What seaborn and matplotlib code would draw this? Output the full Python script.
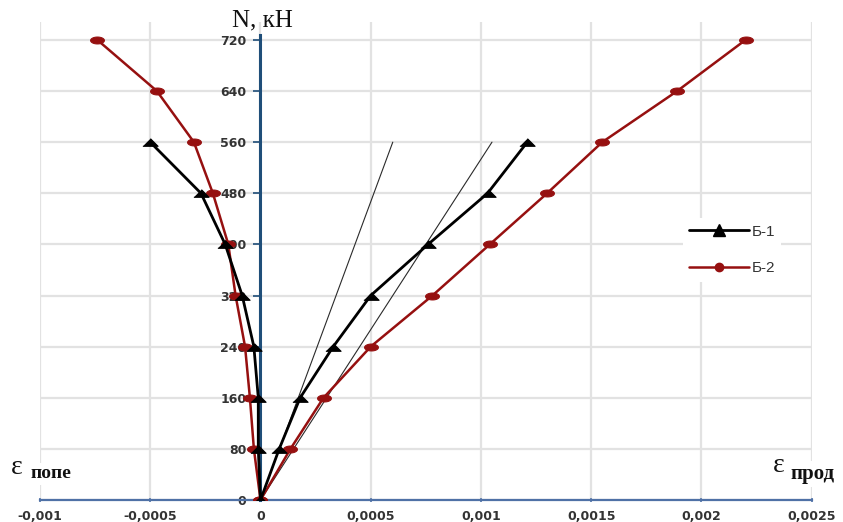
import numpy as np
import pandas as pd
import matplotlib
matplotlib.use("Agg")
import matplotlib.pyplot as plt
from matplotlib.lines import Line2D
import seaborn as sns

# Load levels N, kN
n_b1 = [0, 80, 160, 240, 320, 400, 480, 560]
n_b2 = [0, 80, 160, 240, 320, 400, 480, 560, 640, 720]

# Longitudinal strains (positive) and transverse strains (negative)
b1_long = [0, 0.000085, 0.00018, 0.00033, 0.0005, 0.00076, 0.00103, 0.00121]
b1_trans = [0, -0.00001, -0.00001, -0.00003, -0.000083, -0.00016, -0.00027, -0.0005]
b2_long = [0, 0.000136, 0.000286, 0.0005, 0.00078, 0.00104, 0.0013, 0.00155, 0.00189, 0.0022]
b2_trans = [0, -0.00003, -0.000048, -0.00007, -0.000113, -0.000146, -0.000216, -0.000302, -0.00047, -0.00074]

# Thin straight reference lines from the origin
ref_n = [0, 560]
ref1_eps = [0, 0.0006]
ref2_eps = [0, 0.00105]

series_names = ["Б-1", "Б-2"]

xticks = [-0.001, -0.0005, 0, 0.0005, 0.001, 0.0015, 0.002, 0.0025]
xtick_labels = ["-0,001", "-0,0005", "0", "0,0005", "0,001", "0,0015", "0,002", "0,0025"]
yticks = [0, 80, 160, 240, 320, 400, 480, 560, 640, 720]
ytick_labels = [str(v) for v in yticks]

W, H = 843, 522
sns.set_theme(style="white")
plt.rcParams["font.family"] = ["DejaVu Sans"]

fig = plt.figure(figsize=(W / 100, H / 100), dpi=100)
fig.patch.set_facecolor("white")
ax = fig.add_axes([40 / W, 22 / H, 771.7 / W, 478 / H])
ax.set_facecolor("white")


def branch(n, trans, long_):
    # one continuous path: transverse branch down to the origin, then longitudinal up
    eps = list(reversed(trans)) + list(long_)
    nn = list(reversed(n)) + list(n)
    return pd.DataFrame({"eps": eps, "N": nn})


tri_wide = [(-1, -0.5), (1, -0.5), (0.0, 0.5)]
t = np.linspace(0, 2 * np.pi, 40)
ellipse = list(zip(np.cos(t), 0.5 * np.sin(t)))

red = "#961010"

sns.lineplot(data=pd.DataFrame({"eps": ref1_eps, "N": ref_n}), x="eps", y="N",
             sort=False, estimator=None, color="#2a2a2a", lw=0.8, ax=ax, zorder=3)
sns.lineplot(data=pd.DataFrame({"eps": ref2_eps, "N": ref_n}), x="eps", y="N",
             sort=False, estimator=None, color="#2a2a2a", lw=0.8, ax=ax, zorder=3)

sns.lineplot(data=branch(n_b2, b2_trans, b2_long), x="eps", y="N", sort=False,
             estimator=None, color=red, lw=1.8, marker=ellipse, markersize=10,
             markeredgecolor=red, markerfacecolor=red, ax=ax, zorder=4)
sns.lineplot(data=branch(n_b1, b1_trans, b1_long), x="eps", y="N", sort=False,
             estimator=None, color="black", lw=2.0, marker=tri_wide, markersize=11,
             markeredgecolor="black", markerfacecolor="black", ax=ax, zorder=5)

ax.set_xlim(-0.001, 0.0025)
ax.set_ylim(0, 748)
ax.set_xlabel("")
ax.set_ylabel("")

# grid
ax.set_axisbelow(True)
ax.grid(True, color="#e2e2e2", lw=1.6)

# axes lines
for s in ["top", "right"]:
    ax.spines[s].set_visible(False)
ax.spines["left"].set_position(("data", 0))
ax.spines["left"].set_bounds(0, 727)
ax.spines["left"].set_color("#1f4e79")
ax.spines["left"].set_linewidth(2.2)
ax.spines["left"].set_zorder(2.6)
ax.spines["bottom"].set_color("#4f71a6")
ax.spines["bottom"].set_linewidth(1.6)

ax.set_xticks(xticks)
ax.set_xticklabels(xtick_labels)
ax.set_yticks(yticks)
ax.set_yticklabels(ytick_labels)
ax.tick_params(axis="y", direction="out", length=5, width=1.2, color="#1f4e79",
               pad=5, labelsize=9, labelcolor="#333333", left=True)
ax.tick_params(axis="x", direction="inout", length=3, width=1.2, color="#4f71a6",
               pad=6, labelsize=9, labelcolor="#333333", bottom=True)
for lab in ax.get_xticklabels() + ax.get_yticklabels():
    lab.set_fontweight("bold")

# axis titles
fig.text(262 / W, 1 - 20 / H, "N, кН", family="Liberation Serif", fontsize=18,
         ha="center", va="center", color="#111111")

box = dict(facecolor="white", edgecolor="none", pad=2)
fig.text(11 / W, 1 - 468 / H, "ε", family="Liberation Serif", fontsize=20,
         ha="left", va="center", color="#111111", bbox=box)
fig.text(31 / W, 1 - 474 / H, "попе", family="Liberation Serif", fontsize=14,
         fontweight="bold", ha="left", va="center", color="#111111", bbox=box)
fig.text(773 / W, 1 - 466 / H, "ε", family="Liberation Serif", fontsize=20,
         ha="left", va="center", color="#111111", bbox=box)
fig.text(790 / W, 1 - 474 / H, "прод", family="Liberation Serif", fontsize=15,
         fontweight="bold", ha="left", va="center", color="#111111", bbox=box)

handles = [
    Line2D([], [], color="black", lw=2.0, marker="^", markersize=9),
    Line2D([], [], color=red, lw=1.8, marker="o", markersize=6),
]
leg = ax.legend(handles, series_names, loc="center",
                bbox_to_anchor=(732 / W, 1 - 250 / H), bbox_transform=fig.transFigure,
                frameon=True, facecolor="white", edgecolor="none", framealpha=1,
                fancybox=False, handlelength=3.9, handletextpad=0.2,
                labelspacing=1.5, borderpad=0.4, borderaxespad=0,
                prop={"family": "Liberation Sans", "size": 11})
for txt in leg.get_texts():
    txt.set_color("#333333")
leg.set_zorder(6)

fig.savefig("out.png", dpi=100, facecolor="white")
